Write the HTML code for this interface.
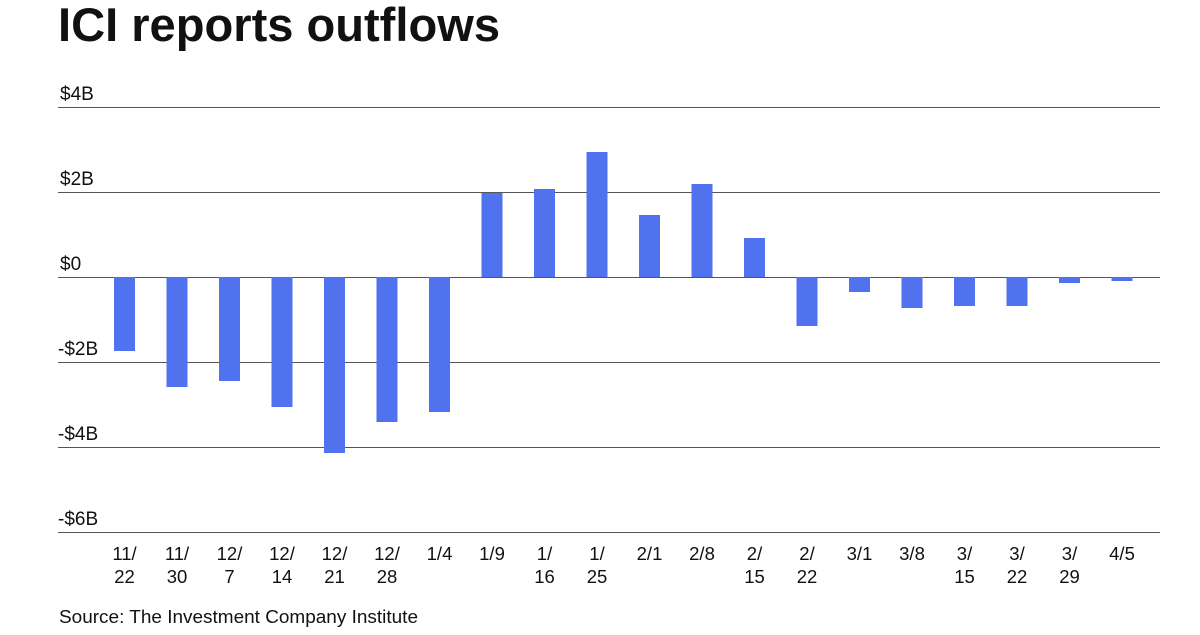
<!DOCTYPE html>
<html><head><meta charset="utf-8"><style>
body{margin:0;background:#fff;width:1200px;height:630px;overflow:hidden;font-family:"Liberation Sans",sans-serif}
</style></head><body>
<svg width="1200" height="630" xmlns="http://www.w3.org/2000/svg" font-family="Liberation Sans, sans-serif">
<text x="58" y="41" font-size="47" font-weight="bold" fill="#111" textLength="442" lengthAdjust="spacingAndGlyphs">ICI reports outflows</text>
<g stroke="#555" stroke-width="1">
<line x1="58" x2="1160" y1="107.5" y2="107.5"/>
<line x1="58" x2="1160" y1="192.5" y2="192.5"/>
<line x1="58" x2="1160" y1="277.5" y2="277.5"/>
<line x1="58" x2="1160" y1="362.5" y2="362.5"/>
<line x1="58" x2="1160" y1="447.5" y2="447.5"/>
<line x1="58" x2="1160" y1="532.5" y2="532.5"/>
</g>
<g font-size="19" fill="#111">
<text x="60" y="100">$4B</text>
<text x="60" y="185">$2B</text>
<text x="60" y="270">$0</text>
<text x="58" y="355">-$2B</text>
<text x="58" y="440">-$4B</text>
<text x="58" y="525">-$6B</text>
</g>
<g fill="#5072EE">
<rect x="114" y="277" width="21" height="74"/>
<rect x="166.5" y="277" width="21" height="110"/>
<rect x="219" y="277" width="21" height="104"/>
<rect x="271.5" y="277" width="21" height="130"/>
<rect x="324" y="277" width="21" height="176"/>
<rect x="376.5" y="277" width="21" height="145"/>
<rect x="429" y="277" width="21" height="135"/>
<rect x="481.5" y="193" width="21" height="84"/>
<rect x="534" y="189" width="21" height="88"/>
<rect x="586.5" y="152" width="21" height="125"/>
<rect x="639" y="215" width="21" height="62"/>
<rect x="691.5" y="184" width="21" height="93"/>
<rect x="744" y="238" width="21" height="39"/>
<rect x="796.5" y="277" width="21" height="49"/>
<rect x="849" y="277" width="21" height="15"/>
<rect x="901.5" y="277" width="21" height="31"/>
<rect x="954" y="277" width="21" height="29"/>
<rect x="1006.5" y="277" width="21" height="29"/>
<rect x="1059" y="277" width="21" height="6"/>
<rect x="1111.5" y="277" width="21" height="4"/>
</g>
<g font-size="18.5" fill="#111" text-anchor="middle">
<text x="124.5" y="560">11/</text><text x="124.5" y="583">22</text>
<text x="177" y="560">11/</text><text x="177" y="583">30</text>
<text x="229.5" y="560">12/</text><text x="229.5" y="583">7</text>
<text x="282" y="560">12/</text><text x="282" y="583">14</text>
<text x="334.5" y="560">12/</text><text x="334.5" y="583">21</text>
<text x="387" y="560">12/</text><text x="387" y="583">28</text>
<text x="439.5" y="560">1/4</text>
<text x="492" y="560">1/9</text>
<text x="544.5" y="560">1/</text><text x="544.5" y="583">16</text>
<text x="597" y="560">1/</text><text x="597" y="583">25</text>
<text x="649.5" y="560">2/1</text>
<text x="702" y="560">2/8</text>
<text x="754.5" y="560">2/</text><text x="754.5" y="583">15</text>
<text x="807" y="560">2/</text><text x="807" y="583">22</text>
<text x="859.5" y="560">3/1</text>
<text x="912" y="560">3/8</text>
<text x="964.5" y="560">3/</text><text x="964.5" y="583">15</text>
<text x="1017" y="560">3/</text><text x="1017" y="583">22</text>
<text x="1069.5" y="560">3/</text><text x="1069.5" y="583">29</text>
<text x="1122" y="560">4/5</text>
</g>
<text x="59" y="623" font-size="18" fill="#111" textLength="359" lengthAdjust="spacingAndGlyphs">Source: The Investment Company Institute</text>
</svg>
</body></html>
